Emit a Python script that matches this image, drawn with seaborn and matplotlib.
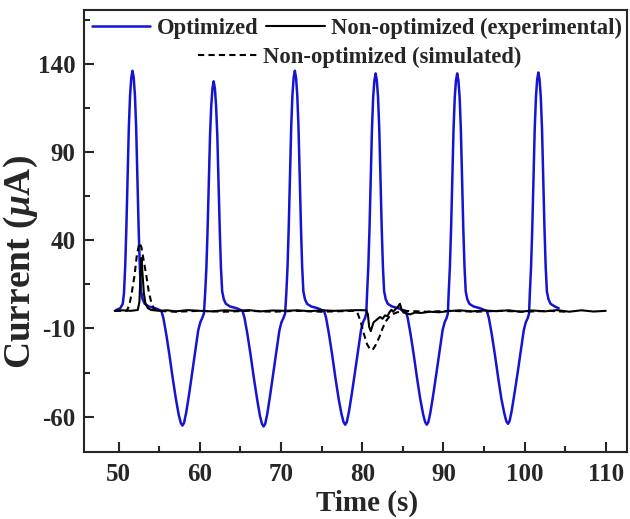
import numpy as np
import pandas as pd
import matplotlib
matplotlib.use("Agg")
import matplotlib.pyplot as plt
import seaborn as sns
from matplotlib.ticker import MultipleLocator, FixedLocator

# Optimized (blue) trace
opt_t = [49.7, 50.2, 50.5,
         50.65, 50.8, 50.95, 51.1, 51.25, 51.4, 51.55, 51.7, 51.85, 52.0, 52.15, 52.3, 52.45, 52.6, 52.75, 52.95, 53.2, 53.7, 54.5, 55.0,
         55.25, 55.5, 55.85, 56.25, 56.65, 57.05, 57.4, 57.65, 57.85, 58.05, 58.3, 58.65, 59.05, 59.45, 59.8, 60.05, 60.3, 60.5,
         60.65, 60.8, 60.95, 61.1, 61.25, 61.4, 61.55, 61.7, 61.85, 62.0, 62.15, 62.3, 62.45, 62.6, 62.75, 62.95, 63.2, 63.7, 64.5, 65.0,
         65.25, 65.5, 65.85, 66.25, 66.65, 67.05, 67.4, 67.65, 67.85, 68.05, 68.3, 68.65, 69.05, 69.45, 69.8, 70.05, 70.3, 70.5,
         70.65, 70.8, 70.95, 71.1, 71.25, 71.4, 71.55, 71.7, 71.85, 72.0, 72.15, 72.3, 72.45, 72.6, 72.75, 72.95, 73.2, 73.7, 74.5, 75.0,
         75.3, 75.55, 75.9, 76.3, 76.7, 77.1, 77.45, 77.7, 77.9, 78.1, 78.35, 78.7, 79.1, 79.5, 79.85, 80.1, 80.35, 80.5,
         80.6, 80.75, 80.9, 81.05, 81.2, 81.35, 81.5, 81.65, 81.8, 81.95, 82.1, 82.25, 82.4, 82.55, 82.7, 82.9, 83.15, 83.65, 84.45, 84.95,
         85.35, 85.6, 85.95, 86.35, 86.75, 87.15, 87.5, 87.75, 87.95, 88.15, 88.4, 88.75, 89.15, 89.55, 89.9, 90.15, 90.4, 90.55,
         90.65, 90.8, 90.95, 91.1, 91.25, 91.4, 91.55, 91.7, 91.85, 92.0, 92.15, 92.3, 92.45, 92.6, 92.75, 92.95, 93.2, 93.7, 94.5, 95.0,
         95.35, 95.6, 95.95, 96.35, 96.75, 97.15, 97.5, 97.75, 97.95, 98.15, 98.4, 98.75, 99.15, 99.55, 99.9, 100.15, 100.4, 100.55,
         100.65, 100.8, 100.95, 101.1, 101.25, 101.4, 101.55, 101.7, 101.85, 102.0, 102.15, 102.3, 102.45, 102.6, 102.75, 102.95, 103.2, 103.7, 104.2]
opt_i = [0.5, 1.5, 4,
         10, 25, 48, 76, 104, 122, 132, 136, 132, 122, 104, 76, 48, 25, 11, 6.5, 4, 2.5, 1.5, 0.5,
         0, -4, -13, -25, -38, -50, -59, -63.5, -65, -63.5, -58, -48, -35, -22, -11, -6.5, -4, -1.5,
         10, 24, 46, 72, 99, 116, 126, 130, 126, 116, 99, 72, 46, 24, 11, 6.5, 4, 2.5, 1.5, 0.5,
         0, -4, -13, -25, -38, -50, -59.5, -64, -65.5, -64, -58.5, -48, -35, -22, -11, -6.5, -4, -1.5,
         10, 25, 48, 76, 104, 122, 132, 136, 132, 122, 104, 76, 48, 25, 11, 6.5, 4, 2.5, 1.5, 0.5,
         0, -4, -13, -25, -38, -50, -58.5, -63, -64.5, -63, -57.5, -47.5, -35, -22, -11, -6.5, -4, -1.5,
         10, 25, 47, 75, 103, 121, 130.5, 134.5, 130.5, 121, 103, 75, 47, 25, 11, 6.5, 4, 2.5, 1.5, 0.5,
         0, -4, -13, -25, -38, -50, -58.5, -63, -64.5, -63, -57.5, -47.5, -35, -22, -11, -6.5, -4, -1.5,
         10, 25, 47, 75, 103, 121, 130.5, 134.5, 130.5, 121, 103, 75, 47, 25, 11, 6.5, 4, 2.5, 1.5, 0.5,
         0, -4, -13, -25, -38, -50, -58, -62.5, -64, -62.5, -57, -47, -35, -22, -11, -6.5, -4, -1.5,
         10, 25, 47, 75, 103, 121, 131, 135, 131, 121, 103, 75, 47, 25, 11, 6.5, 4, 2.5, 1.5]

# Non-optimized, experimental (black solid)
exp_t = [49.5, 50.5, 51.5, 52.35, 52.55, 52.7, 52.8, 52.95, 53.1, 53.3, 53.6, 54.0, 55.0, 56.0, 57.0, 58.5,
         60.0, 61.5, 63.0, 64.5, 66.0, 67.5, 69.0, 70.5, 72.0, 73.5, 75.0, 76.5, 78.0, 79.5, 80.5,
         80.7, 80.85, 81.05, 81.4, 81.8, 82.2, 82.5, 82.8, 83.1, 83.4, 83.6, 83.8, 84.1, 84.35, 84.65,
         84.85, 85.1, 85.5, 85.9, 86.5, 87.3, 88.3, 89.5, 90.5, 92.0, 93.5, 95.0, 96.5, 98.0, 99.5,
         101.0, 102.5, 104.0, 105.5, 107.0, 108.5, 110.0]
exp_i = [0, 0.3, 0, 0.5, 5, 22, 30, 20, 10, 4, 1.5, 0.5, 0, 0.3, -0.3, 0.4,
         0, -0.3, 0.3, 0, 0.4, -0.3, 0.2, 0, 0.3, -0.2, 0.3, 0, 0.2, 0.4, 0.3,
         -2, -9, -11.5, -6.5, -5, -3.5, -4.5, -2.6, -3, -0.5, 0.6, -0.5, 1, 2, 4,
         0.5, -1, -1.5, -2, -1, -1.2, -0.5, -0.8, -0.2, 0.3, -0.3, 0.2, -0.2, 0.3, -0.5,
         0.2, -0.3, 0.4, -0.5, 0.3, -0.4, 0]

# Non-optimized, simulated (black dashed)
sim_t = [49.5, 51.0, 51.3, 51.6, 51.95, 52.25, 52.55, 52.8, 53.1, 53.4, 53.7, 54.0, 54.3, 54.7,
         57.0, 60.0, 63.0, 66.0, 69.0, 72.0, 75.0, 79.0, 79.4, 79.8, 80.2, 80.6, 81.0, 81.3, 81.7,
         82.1, 82.5, 82.9, 83.3, 83.7, 84.2, 85.0, 88.0, 91.0, 94.0, 97.0, 100.0, 103.0, 105.0]
sim_i = [0, 0, 3, 10, 20, 32, 38.5, 36, 28, 20, 11, 5, 1.5, 0,
         -0.5, 0, -0.5, 0, -0.5, 0, -0.5, 0, -1, -6, -13, -19, -22, -22, -19,
         -15, -10, -6, -3.5, -2, -1, 0, -0.5, 0, -0.5, 0, -0.5, 0, -0.5]

x_major = [50, 60, 70, 80, 90, 100, 110]
y_major = [140, 90, 40, -10, -60]
y_minor = [165, 115, 65, 15, -35]

sns.set_style("ticks")
plt.rcParams['font.family'] = ['Liberation Serif', 'DejaVu Serif']
plt.rcParams['font.weight'] = 'bold'
plt.rcParams['axes.unicode_minus'] = False
plt.rcParams['mathtext.fontset'] = 'custom'
plt.rcParams['mathtext.it'] = 'Liberation Serif:italic:bold'
plt.rcParams['mathtext.rm'] = 'Liberation Serif:bold'

fig = plt.figure(figsize=(6.3, 5.19), dpi=100)
ax = fig.add_axes([0.133, 0.129, 0.862, 0.852])

blue = '#1414d2'
sns.lineplot(x=opt_t, y=opt_i, ax=ax, color=blue, lw=1.8, sort=False, estimator=None)
sns.lineplot(x=exp_t, y=exp_i, ax=ax, color='black', lw=1.5, sort=False, estimator=None)
sns.lineplot(x=sim_t, y=sim_i, ax=ax, color='black', lw=1.5, sort=False, estimator=None,
             linestyle=(0, (3, 2)))
lines = ax.get_lines()

ax.set_xlim(45.7, 112.6)
ax.set_ylim(-80, 170.5)
ax.xaxis.set_major_locator(FixedLocator(x_major))
ax.xaxis.set_minor_locator(MultipleLocator(5))
ax.yaxis.set_major_locator(FixedLocator(y_major))
ax.yaxis.set_minor_locator(FixedLocator(y_minor))
ax.tick_params(which='both', direction='in', width=1.5, labelsize=18)
ax.tick_params(axis='x', pad=8)
ax.tick_params(axis='y', pad=6)
ax.tick_params(which='major', length=7)
ax.tick_params(which='minor', length=4)
ax.tick_params(top=False, right=False)
for s in ax.spines.values():
    s.set_linewidth(1.5)
    s.set_visible(True)

ax.set_xlabel('Time (s)', fontsize=21, fontweight='bold')
ax.xaxis.set_label_coords(0.521, -0.086)
ax.set_ylabel(r'Current ($\mu$A)', fontsize=27, fontweight='bold')
ax.yaxis.set_label_coords(-0.08, 0.43)

prop = {'size': 16.3, 'weight': 'bold'}
leg1 = ax.legend([lines[0], lines[1]], ['Optimized', 'Non-optimized (experimental)'],
                 ncol=2, loc='center', bbox_to_anchor=(0.503, 0.959), frameon=False,
                 prop=prop, handlelength=2.6, handletextpad=0.3,
                 columnspacing=0.3, borderpad=0, borderaxespad=0)
ax.add_artist(leg1)
ax.legend([lines[2]], ['Non-optimized (simulated)'], loc='center',
          bbox_to_anchor=(0.508, 0.893), frameon=False,
          prop=prop, handlelength=2.6, handletextpad=0.3,
          borderpad=0, borderaxespad=0)

fig.savefig('out.png', dpi=100)
